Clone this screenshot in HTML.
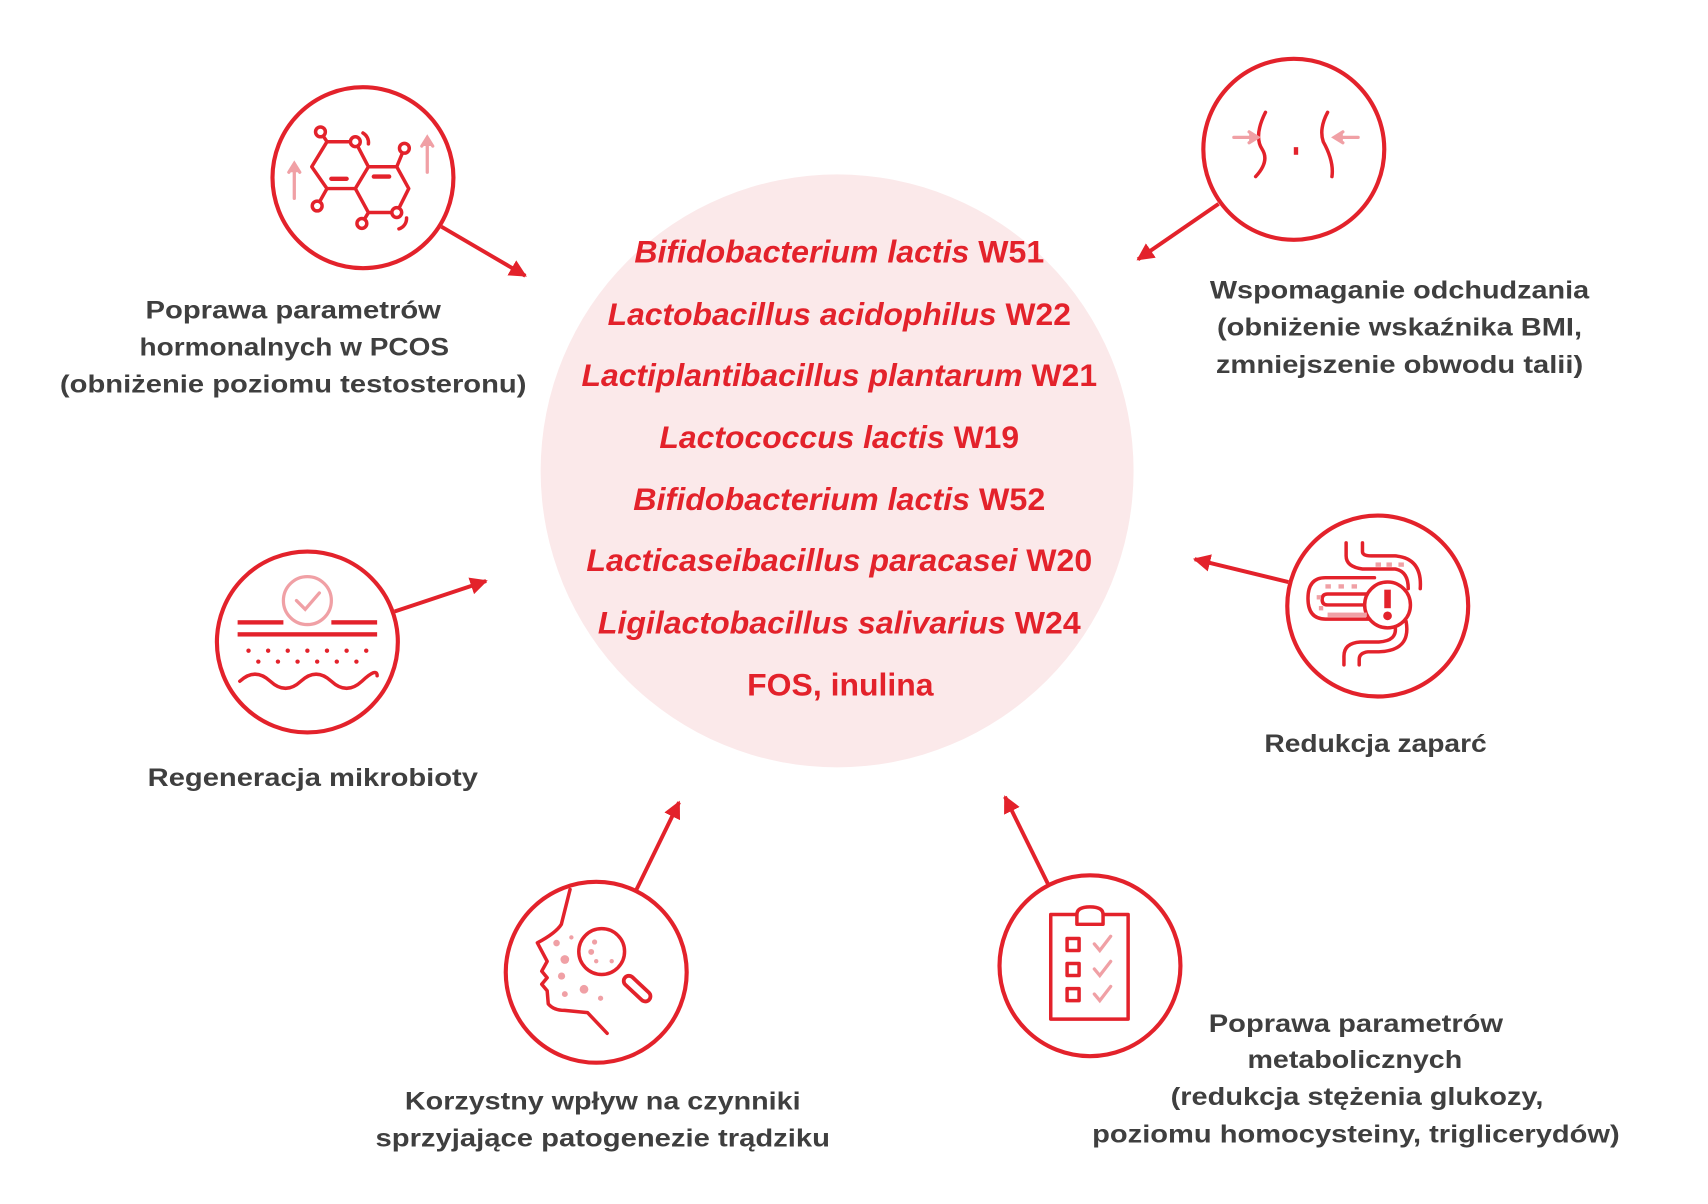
<!DOCTYPE html>
<html><head><meta charset="utf-8"><style>
html,body{margin:0;padding:0;background:#fff}
svg{display:block}
.g{font-family:"Liberation Sans",sans-serif;font-weight:bold;font-size:23px;fill:#3f3f3f}
.r{font-family:"Liberation Sans",sans-serif;font-weight:bold;font-style:italic;font-size:29px;fill:#e3222b}
.c{fill:none;stroke:#e3222b;stroke-width:3.8}
.s{fill:none;stroke:#e3222b;stroke-width:3.2;stroke-linecap:round;stroke-linejoin:round}
.p{fill:none;stroke:#f0a0a5;stroke-width:3;stroke-linecap:round}
.pf{fill:#f0a0a5}
</style></head><body>
<svg width="1708" height="1204" viewBox="0 0 1567 1104.6" preserveAspectRatio="none" xmlns="http://www.w3.org/2000/svg">
<defs>
<marker id="a" viewBox="0 0 10 10" refX="9" refY="5" markerWidth="16" markerHeight="16" orient="auto" markerUnits="userSpaceOnUse"><path d="M0,0 L10,5 L0,10 z" fill="#e3222b"/></marker></defs>

<circle cx="768" cy="432" r="272" fill="#fbe9ea"/>
<g class="r" text-anchor="middle">
<text x="770" y="241" textLength="376" lengthAdjust="spacingAndGlyphs">Bifidobacterium lactis <tspan font-style="normal">W51</tspan></text>
<text x="770" y="298" textLength="425" lengthAdjust="spacingAndGlyphs">Lactobacillus acidophilus <tspan font-style="normal">W22</tspan></text>
<text x="770" y="354" textLength="473" lengthAdjust="spacingAndGlyphs">Lactiplantibacillus plantarum <tspan font-style="normal">W21</tspan></text>
<text x="770" y="411" textLength="330" lengthAdjust="spacingAndGlyphs">Lactococcus lactis <tspan font-style="normal">W19</tspan></text>
<text x="770" y="468" textLength="378" lengthAdjust="spacingAndGlyphs">Bifidobacterium lactis <tspan font-style="normal">W52</tspan></text>
<text x="770" y="524" textLength="464" lengthAdjust="spacingAndGlyphs">Lacticaseibacillus paracasei <tspan font-style="normal">W20</tspan></text>
<text x="770" y="581" textLength="443" lengthAdjust="spacingAndGlyphs">Ligilactobacillus salivarius <tspan font-style="normal">W24</tspan></text>
<text x="771" y="638" textLength="171" lengthAdjust="spacingAndGlyphs" font-style="normal">FOS, inulina</text>
</g>

<g stroke="#e3222b" stroke-width="3.6">
<line x1="405" y1="208" x2="482" y2="253" marker-end="url(#a)"/>
<line x1="1118" y1="187" x2="1044" y2="238" marker-end="url(#a)"/>
<line x1="362" y1="561" x2="446" y2="533" marker-end="url(#a)"/>
<line x1="1182" y1="534" x2="1096" y2="513" marker-end="url(#a)"/>
<line x1="583" y1="818" x2="623" y2="736" marker-end="url(#a)"/>
<line x1="962" y1="812" x2="922" y2="731" marker-end="url(#a)"/>
</g>

<g class="c">
<circle cx="333" cy="163" r="83" fill="#fff"/>
<circle cx="1187" cy="137" r="83" fill="#fff"/>
<circle cx="282" cy="589" r="83" fill="#fff"/>
<circle cx="1264" cy="556" r="83" fill="#fff"/>
<circle cx="547" cy="892" r="83" fill="#fff"/>
<circle cx="1000" cy="886" r="83" fill="#fff"/>
</g>

<!-- hormone icon -->
<g class="s">
<path d="M300,130 L326,130 L338,153 L326,173 L300,173 L286,153 Z"/>
<path d="M338,153 L364,153 L375,173 L364,195 L338,195 L326,173"/>
<line x1="300" y1="130" x2="294" y2="121"/><line x1="364" y1="153" x2="371" y2="136"/>
<line x1="300" y1="173" x2="291" y2="189"/><line x1="338" y1="195" x2="332" y2="205"/>
<circle cx="294" cy="121" r="4.5" fill="#fff"/><circle cx="326" cy="130" r="4.5" fill="#fff"/><circle cx="371" cy="136" r="4.5" fill="#fff"/>
<circle cx="291" cy="189" r="4.5" fill="#fff"/><circle cx="332" cy="205" r="4.5" fill="#fff"/><circle cx="364" cy="195" r="4.5" fill="#fff"/>
<path d="M333,122 A10,10 0 0 1 338,132"/><path d="M373,200 A10,10 0 0 1 366,210"/>
<line x1="304" y1="164" x2="318" y2="164" stroke-width="4"/><line x1="343" y1="162" x2="357" y2="162" stroke-width="4"/>
</g>
<g class="p"><line x1="270" y1="182" x2="270" y2="152"/><path d="M265,158 L270,150 L275,158" fill="#f0a0a5"/>
<line x1="392" y1="158" x2="392" y2="128"/><path d="M387,134 L392,126 L397,134" fill="#f0a0a5"/></g>

<!-- waist icon -->
<g class="s"><path d="M1161,103 Q1150,125 1158,137 Q1165,148 1152,162"/><path d="M1218,103 Q1210,118 1214,130 Q1224,148 1222,162"/></g>
<rect x="1187" y="135" width="4" height="7" fill="#e3222b"/>
<g class="p"><line x1="1132" y1="126" x2="1152" y2="126"/><path d="M1146,121 L1154,126 L1146,131" fill="#f0a0a5"/>
<line x1="1246" y1="126" x2="1226" y2="126"/><path d="M1232,121 L1224,126 L1232,131" fill="#f0a0a5"/></g>

<!-- skin icon -->
<circle cx="282" cy="551" r="22" class="p"/><path d="M272,551 L280,559 L293,544" class="p"/>
<g fill="#e3222b"><rect x="218" y="569" width="42" height="4"/><rect x="304" y="569" width="42" height="4"/><rect x="218" y="580" width="128" height="4"/></g>
<g fill="#e3222b"><circle cx="228" cy="597" r="2"/><circle cx="246" cy="597" r="2"/><circle cx="264" cy="597" r="2"/><circle cx="282" cy="597" r="2"/><circle cx="300" cy="597" r="2"/><circle cx="318" cy="597" r="2"/><circle cx="336" cy="597" r="2"/>
<circle cx="237" cy="607" r="2"/><circle cx="255" cy="607" r="2"/><circle cx="273" cy="607" r="2"/><circle cx="291" cy="607" r="2"/><circle cx="309" cy="607" r="2"/><circle cx="327" cy="607" r="2"/></g>
<path d="M220,625 Q234,612 248,625 T276,625 T304,625 T332,625 T346,620" class="s"/>

<!-- intestine icon -->
<g class="s">
<path d="M1235,498 V510 Q1235,520 1250,522 H1280 Q1292,524 1292,540"/>
<path d="M1250,498 V506 Q1250,510 1258,510 H1280 Q1305,512 1303,540"/>
<path d="M1261,530 H1216 Q1200,530 1200,549 Q1200,568 1216,568 H1262"/>
<path d="M1258,545 H1218 Q1213,545 1213,550 Q1213,555 1218,555 H1256"/>
<path d="M1280,575 Q1282,588 1265,589 H1248 Q1233,590 1233,602 V610"/>
<path d="M1290,570 Q1295,597 1265,598 H1255 Q1247,599 1247,605 V610"/>
<circle cx="1273" cy="555" r="21" fill="#fff"/>
</g>
<rect x="1270" y="541" width="6" height="17" fill="#e3222b"/><circle cx="1273" cy="565" r="4" fill="#e3222b"/>
<g class="pf"><rect x="1272" y="516" width="5" height="4"/><rect x="1283" y="516" width="5" height="4"/><rect x="1262" y="516" width="5" height="4"/>
<rect x="1216" y="536" width="5" height="4"/><rect x="1228" y="536" width="5" height="4"/><rect x="1240" y="536" width="5" height="4"/>
<rect x="1208" y="546" width="4" height="4"/><rect x="1210" y="556" width="4" height="4"/>
<rect x="1218" y="562" width="36" height="4"/></g>

<!-- face icon -->
<path class="s" d="M523,816 L515,848 Q510,856 493,865 L502,882 L497,891 L502,897 L497,903 L502,909 L503,921 Q508,927 518,927 L539,929 L557,948"/>
<circle cx="552" cy="873" r="21" class="s"/>
<line x1="577" y1="900" x2="592" y2="914" stroke="#e3222b" stroke-width="13" stroke-linecap="round"/>
<line x1="577" y1="900" x2="592" y2="914" stroke="#fff" stroke-width="6" stroke-linecap="round"/>
<g class="pf"><circle cx="510.6" cy="865.2" r="3"/><circle cx="524.2" cy="860" r="2"/><circle cx="518.2" cy="880.3" r="4"/><circle cx="515.2" cy="895.5" r="3.3"/><circle cx="518.2" cy="912" r="2.7"/><circle cx="535.8" cy="907.6" r="4"/><circle cx="551" cy="915.8" r="2.4"/><circle cx="545.5" cy="864.2" r="2.4"/><circle cx="542.4" cy="873.3" r="2.7"/><circle cx="547" cy="881.8" r="2"/><circle cx="561.2" cy="881.8" r="2"/></g>

<!-- clipboard icon -->
<g class="s" stroke-linecap="butt">
<rect x="964" y="839" width="71" height="96"/>
<path d="M988,848 V839 Q988,832 1000,832 Q1012,832 1012,839 V848 Z" fill="#fff"/>
<rect x="979" y="861" width="11" height="11"/><rect x="979" y="884" width="11" height="11"/><rect x="979" y="907" width="11" height="11"/>
</g>
<g class="p" stroke-width="3.4"><path d="M1004,866 L1009,872 L1019,859"/><path d="M1004,889 L1009,895 L1019,882"/><path d="M1004,912 L1009,918 L1019,905"/></g>

<g class="g" text-anchor="middle">
<text x="269" y="292" textLength="271" lengthAdjust="spacingAndGlyphs">Poprawa parametrów</text>
<text x="270" y="326" textLength="284" lengthAdjust="spacingAndGlyphs">hormonalnych w PCOS</text>
<text x="269" y="360" textLength="428" lengthAdjust="spacingAndGlyphs">(obniżenie poziomu testosteronu)</text>
<text x="1284" y="274" textLength="348" lengthAdjust="spacingAndGlyphs">Wspomaganie odchudzania</text>
<text x="1284" y="308" textLength="335" lengthAdjust="spacingAndGlyphs">(obniżenie wskaźnika BMI,</text>
<text x="1284" y="342" textLength="337" lengthAdjust="spacingAndGlyphs">zmniejszenie obwodu talii)</text>
<text x="287" y="721" textLength="303" lengthAdjust="spacingAndGlyphs">Regeneracja mikrobioty</text>
<text x="1262" y="690" textLength="204" lengthAdjust="spacingAndGlyphs">Redukcja zaparć</text>
<text x="553" y="1018" textLength="363" lengthAdjust="spacingAndGlyphs">Korzystny wpływ na czynniki</text>
<text x="553" y="1052" textLength="417" lengthAdjust="spacingAndGlyphs">sprzyjające patogenezie trądziku</text>
<text x="1244" y="947" textLength="270" lengthAdjust="spacingAndGlyphs">Poprawa parametrów</text>
<text x="1243" y="980" textLength="197" lengthAdjust="spacingAndGlyphs">metabolicznych</text>
<text x="1245" y="1014" textLength="342" lengthAdjust="spacingAndGlyphs">(redukcja stężenia glukozy,</text>
<text x="1244" y="1048" textLength="484" lengthAdjust="spacingAndGlyphs">poziomu homocysteiny, triglicerydów)</text>
</g>
</svg>
</body></html>
